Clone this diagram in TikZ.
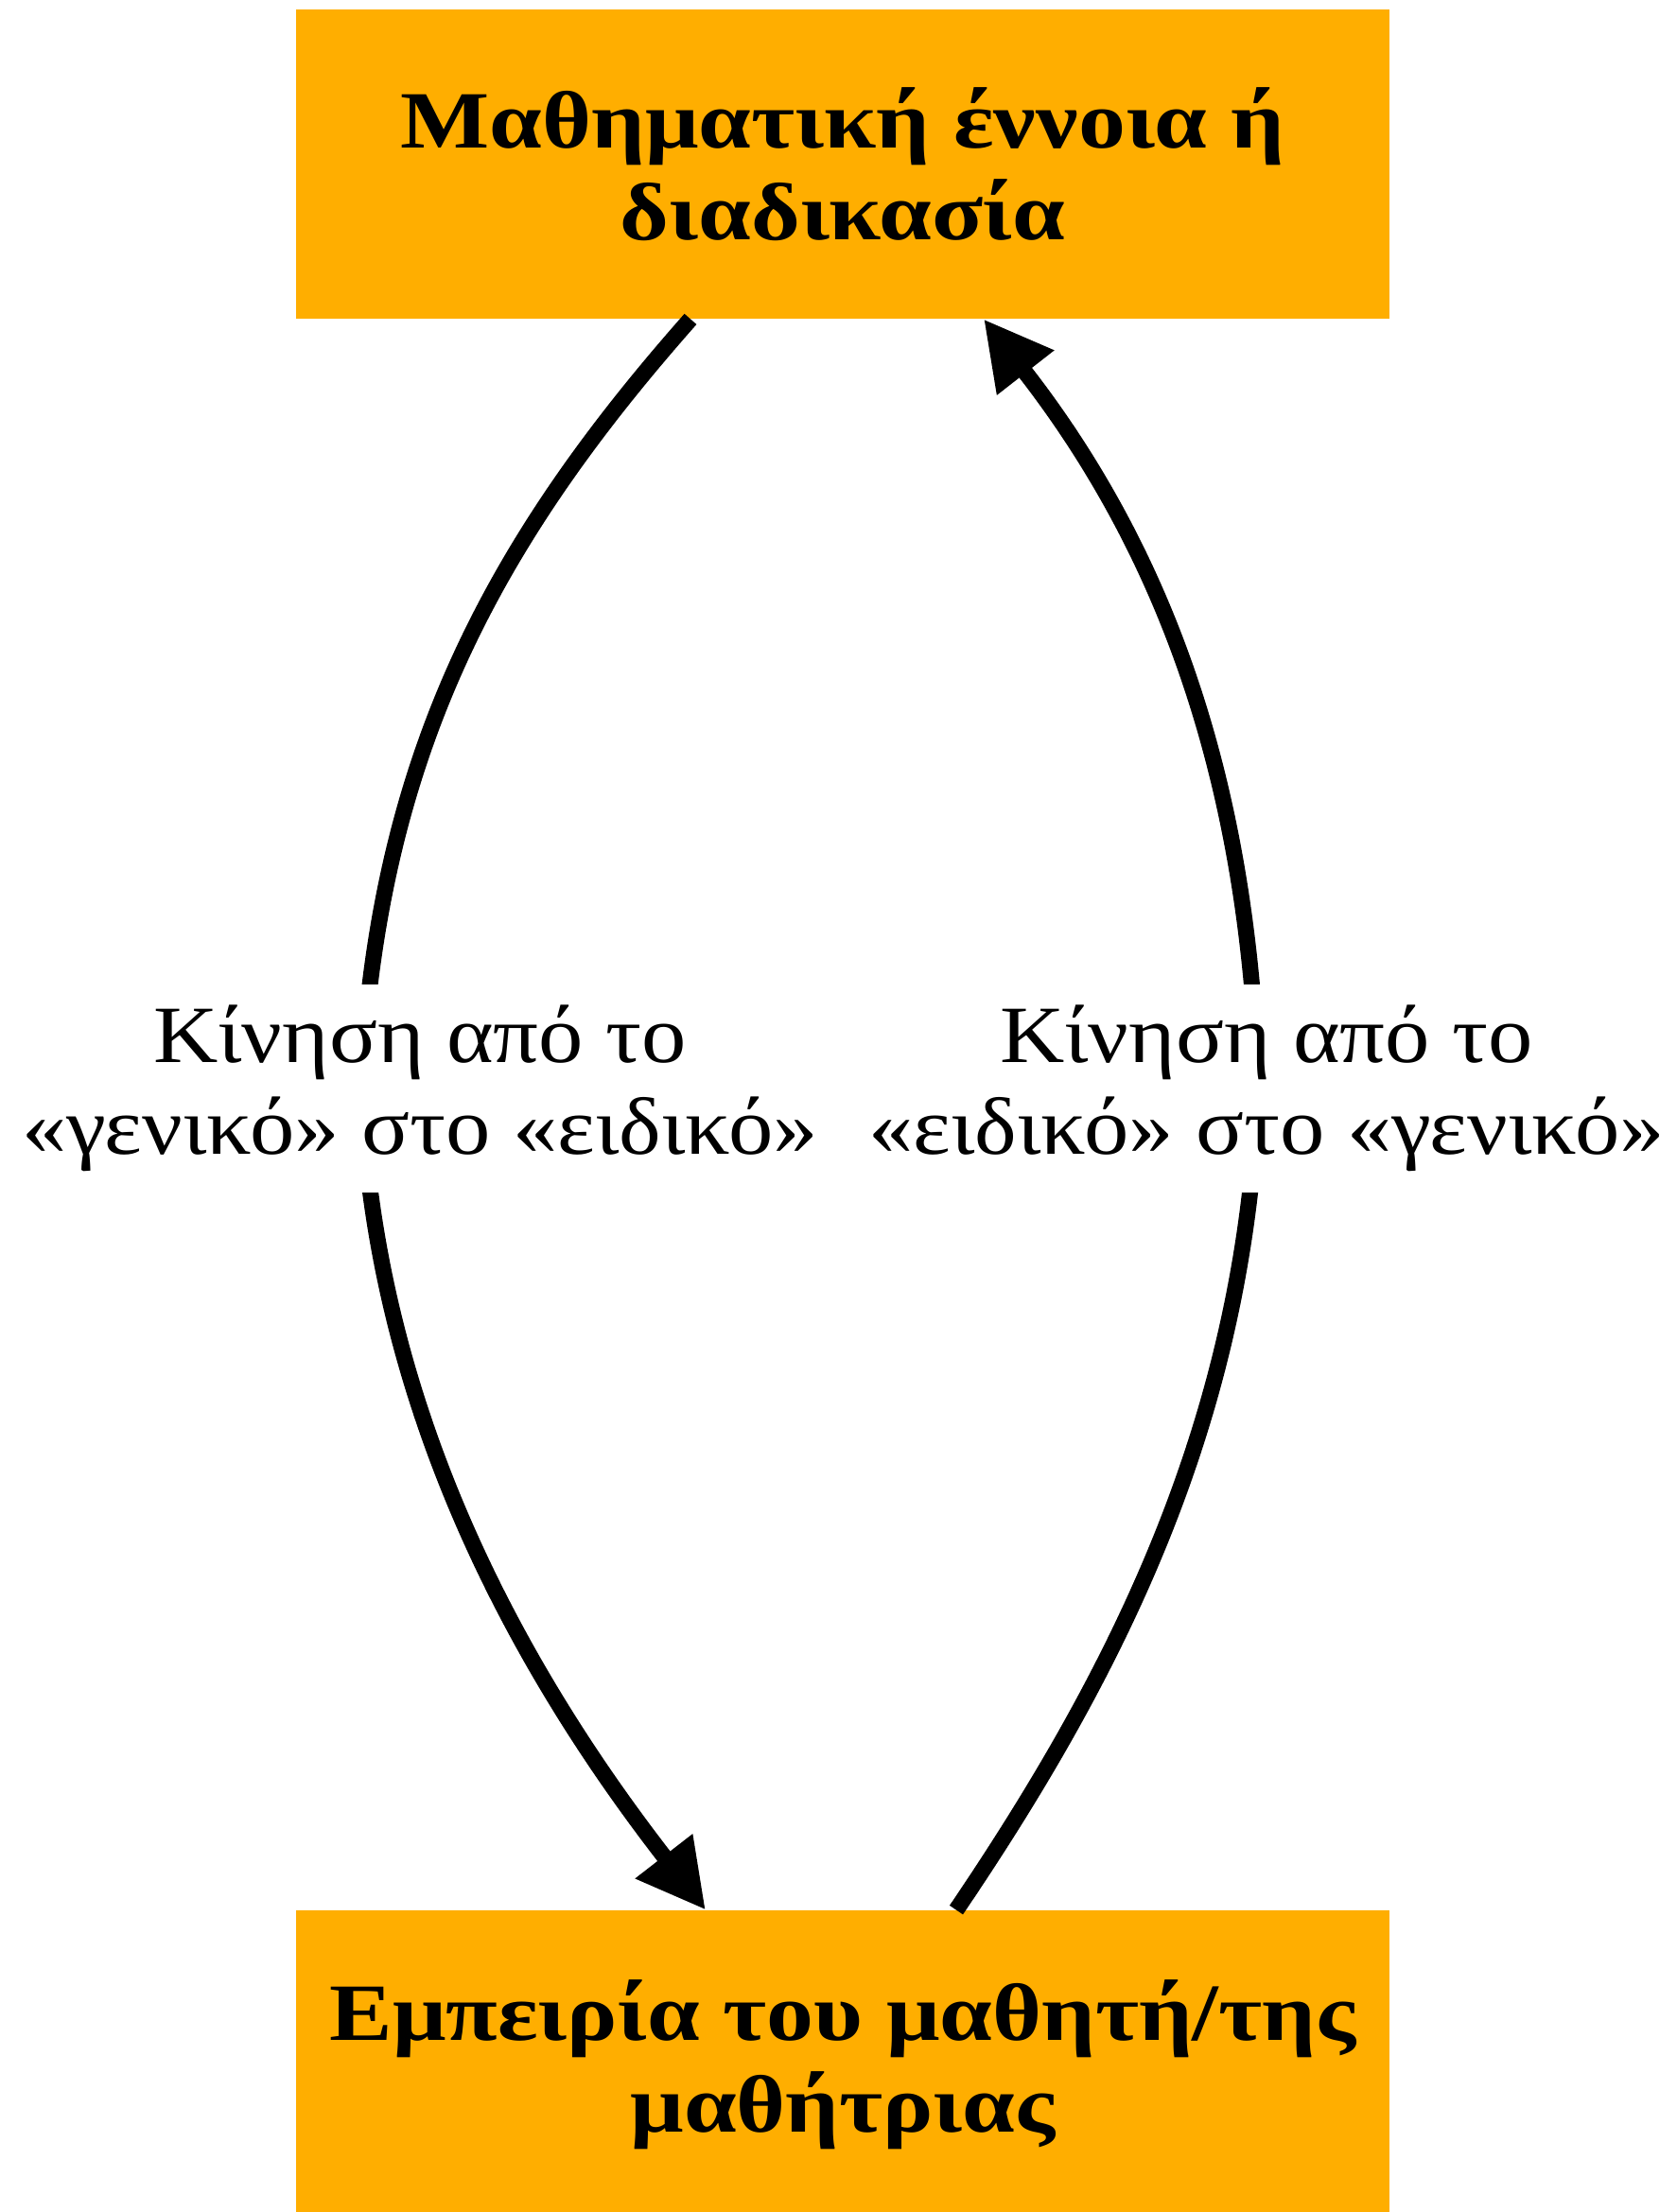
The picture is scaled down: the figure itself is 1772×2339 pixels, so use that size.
\documentclass[tikz,border=0pt]{standalone}
\usepackage{fontspec}
\setmainfont[FakeStretch=1.1]{Liberation Serif}
\newfontfamily\boxfont[FakeStretch=1.16]{Liberation Serif}
\usepackage{xcolor}
\usetikzlibrary{arrows.meta, positioning, calc}
\definecolor{boxorange}{HTML}{FFAE00}

\begin{document}
\begin{tikzpicture}[x=0.5pt, y=-0.5pt,
  stage/.style={fill=boxorange, minimum width=578pt, minimum height=163.5pt,
    align=center, font=\fontsize{43}{48.5}\selectfont\boxfont\bfseries},
  move/.style={line width=8.5pt, -{Triangle[length=36pt, width=36pt]}},
  movelabel/.style={fill=white, align=center, inner sep=0pt,
    minimum height=110pt, font=\fontsize{43}{48.5}\selectfont}]
  \useasboundingbox (0,0) rectangle (1772,2339);

  \node[stage] (top) at (891,173.5) {Μαθηματική έννοια ή\\διαδικασία};
  \node[stage] (bot) at (891,2183.5) {Εμπειρία του μαθητή/της\\μαθήτριας};

  % general -> specific (left), specific -> general (right)
  \draw[move] ($(top.south)+(-161,0)$) .. controls (520,575) and (400,800) .. (382,1147)
    .. controls (395,1500) and (560,1780) .. ($(bot.north)+(-145,0)$);
  \draw[move] ($(bot.north)+(120,0)$) .. controls (1180,1770) and (1318,1500) .. (1330,1147)
    .. controls (1320,850) and (1245,600) .. ($(top.south)+(149,0)$);

  \node[movelabel] (gen2spec) at (444,1151) {Κίνηση από το\\«γενικό» στο «ειδικό»};
  \node[movelabel] (spec2gen) at (1339,1151) {Κίνηση από το\\«ειδικό» στο «γενικό»};
\end{tikzpicture}
\end{document}
